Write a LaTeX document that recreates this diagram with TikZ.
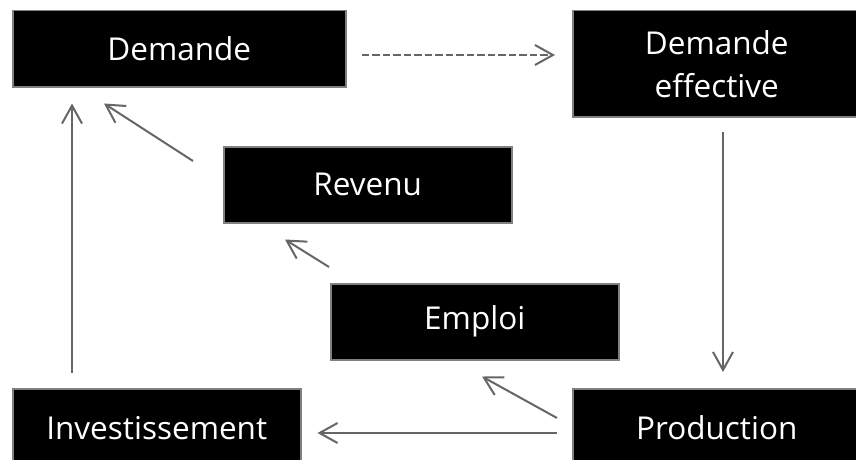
\documentclass[tikz,border=0pt]{standalone}
\usepackage{fontspec}
\setmainfont{Open Sans}
\usetikzlibrary{calc,arrows.meta}

\begin{document}
\begin{tikzpicture}[x=1pt,y=-1pt,
    box/.style={draw=black!50, line width=1.5pt, fill=black, text=white,
      font=\fontsize{31.5}{43}\selectfont, align=center, anchor=north west,
      inner sep=0pt, minimum width=288pt, minimum height=76pt},
    arr/.style={draw=black!60, line width=2pt,
      -{Straight Barb[length=18pt,width=20pt,line width=2pt]}}]
			%%%%% START %%%%%
			\useasboundingbox (0,0) rectangle (856,460);
			
			\node[box, minimum width=333pt] (dem) at (12,10) {Demande};
			\node[box, minimum height=106pt] (eff) at (572,10) {Demande\\effective};
			\node[box] (rev) at (223,146) {Revenu};
			\node[box] (emp) at (330,283) {Emploi};
			\node[box, minimum height=78pt] (inv) at (12,388) {Investissement};
			\node[box, minimum height=78pt] (prod) at (572,388) {Production};
			
			\draw[arr, dash pattern=on 7.5pt off 3pt] ($(dem.north east)+(15,45)$) -- ($(eff.north west)+(-17,45)$);
			\draw[arr] ($(eff.south west)+(151,14)$) -- ($(prod.north west)+(151,-16)$);
			\draw[arr] ($(prod.north west)+(-15,45)$) -- ($(inv.north east)+(16,45)$);
			\draw[arr] ($(inv.north west)+(60,-15)$) -- ($(dem.south west)+(60,16)$);
			\draw[arr] ($(rev.north west)+(-30,15)$) -- ($(dem.south west)+(92,16)$);
			\draw[arr] ($(emp.north west)+(-1,-16)$) -- ($(rev.south west)+(62,16)$);
			\draw[arr] ($(prod.north west)+(-15,30)$) -- ($(emp.south west)+(152,16)$);
			%%%%% END %%%%%
\end{tikzpicture}
\end{document}
